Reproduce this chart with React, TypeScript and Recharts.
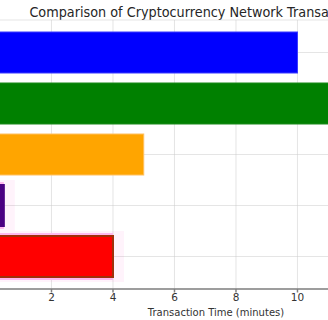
import React from "react";
import {
  BarChart,
  Bar,
  XAxis,
  YAxis,
  CartesianGrid,
  Cell,
} from "recharts";

const networks = ["Bitcoin", "Bitcoin Cash", "Litecoin", "Ethereum", "Dogecoin"];
const times = [10, 14, 5, 0.45, 4];
const colors = ["#0000ff", "#008000", "#ffa500", "#4b0082", "#ff0000"];
const edges = ["#3a3aff", "#1a8a1a", "#ffc060", "#4b0082", "#a0300a"];
const highlighted = [false, false, false, true, true];
const xTicks = [0, 2, 4, 6, 8, 10, 12, 14];

const data = networks.map((name, i) => ({
  name,
  time: times[i],
  color: colors[i],
  edge: edges[i],
  glow: highlighted[i],
}));

const FONT = "'DejaVu Sans', sans-serif";

// bar with a soft pink glow for the highlighted networks
function GlowBar(props: any) {
  const { x, y, width, height } = props;
  const entry = props.payload ?? props;
  const glow = entry.glow;
  const ring = glow && width > 10;
  return (
    <g>
      {glow && (
        <rect
          x={x - 4}
          y={y - 5}
          width={width + 15}
          height={height + 10}
          fill="#ff33bb"
          fillOpacity={0.06}
        />
      )}
      {ring && (
        <rect
          x={x - 3}
          y={y - 3}
          width={width + 3}
          height={height + 6}
          fill="#ffb8ee"
        />
      )}
      <rect
        x={x}
        y={y}
        width={width}
        height={height}
        fill={entry.color}
        stroke={entry.edge}
        strokeWidth={ring ? 2 : 1}
      />
    </g>
  );
}

export default function App() {
  return (
    <div
      style={{
        position: "absolute",
        left: 0,
        top: 0,
        width: 328,
        height: 320,
        overflow: "hidden",
        background: "#fff",
        fontFamily: FONT,
      }}
    >
      <div
        style={{
          position: "absolute",
          left: -10,
          top: 3,
          width: 452,
          textAlign: "center",
          fontSize: 13.5,
          lineHeight: "18px",
          color: "#262626",
          whiteSpace: "nowrap",
          transform: "scaleX(0.95)",
          transformOrigin: "center",
        }}
      >
        Comparison of Cryptocurrency Network Transaction Times
      </div>
      <div style={{ position: "absolute", left: -10, top: 0 }}>
        <BarChart
          width={452}
          height={320}
          data={data}
          layout="vertical"
          margin={{ top: 20, right: 0, bottom: 0, left: 0 }}
        >
          <XAxis
            type="number"
            dataKey="time"
            domain={[0, 14.7]}
            ticks={xTicks}
            allowDataOverflow
            height={31}
            tickSize={3.5}
            tickMargin={1}
            stroke="#808080"
            strokeWidth={1.5}
            tick={{ fontSize: 10.5, fill: "#333", fontFamily: FONT }}
            label={{
              value: "Transaction Time (minutes)",
              position: "insideBottom",
              offset: 4,
              fontSize: 10,
              fill: "#333",
              fontFamily: FONT,
            }}
          />
          <YAxis
            type="category"
            dataKey="name"
            hide
            width={0}
            padding={{ top: 7, bottom: 7 }}
          />
          <Bar
            dataKey="time"
            barSize={41}
            isAnimationActive={false}
            shape={GlowBar}
          >
            {data.map((d, i) => (
              <Cell key={`cell-${i}`} fill={d.color} />
            ))}
          </Bar>
          <CartesianGrid stroke="#cccccc" strokeOpacity={0.5} />
        </BarChart>
      </div>
    </div>
  );
}
